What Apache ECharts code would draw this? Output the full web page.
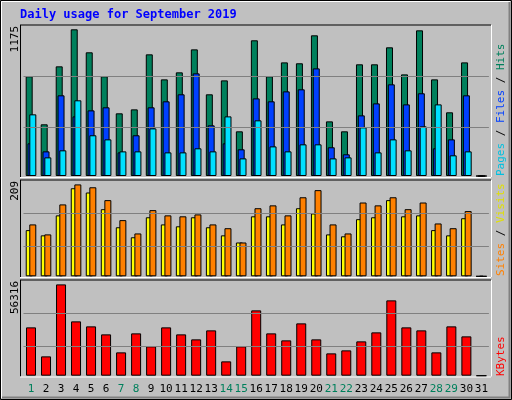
<!DOCTYPE html>
<html><head><meta charset="utf-8">
<script src="https://cdn.jsdelivr.net/npm/echarts@6/dist/echarts.min.js"></script>
<style>html,body{margin:0;padding:0;background:#c0c0c0}#c{width:512px;height:400px}</style>
</head><body><div id="c"></div>
<script>
const days = Array.from({length:31},(_,i)=>String(i+1));
const weekend = [1,7,8,14,15,21,22,28,29];
const hits  = [781,405,859,1149,969,781,491,522,953,757,812,992,640,749,350,1063,781,890,883,1102,428,350,875,875,1008,796,1141,757,499,890,0];
const files = [256,193,632,467,514,538,185,319,538,585,640,804,397,256,209,608,585,663,679,843,225,170,475,569,718,561,648,217,287,632,0];
const pages = [483,146,201,593,319,287,193,193,373,185,185,217,193,467,138,436,232,193,248,248,138,146,381,185,287,201,389,561,162,193,0];
const visits= [97,86,128,185,176,141,103,82,124,109,105,124,103,86,71,126,126,109,143,132,88,84,120,124,160,126,128,97,86,122,0];
const sites = [109,88,151,193,187,160,118,90,139,128,126,130,109,101,71,143,149,128,166,181,109,90,155,149,166,141,155,111,101,137,0];
const kbytes= [27492,10997,51950,30905,28061,23510,13272,24079,16685,27492,23510,20666,25786,8153,16685,37162,24079,20098,29767,20666,12703,14410,19529,24648,42850,27492,25786,13272,28061,22373,0];
const yMax = [1175,209,56316];
const gridLinesTop=[381,781], gridLinesMid=[63,132], gridLinesBot=[16685,35455];

const F='"DejaVu Sans Mono", monospace';
const ch = echarts.init(document.getElementById('c'));
const grids=[{left:23.5,width:465.4,top:26,height:150},{left:23.5,width:465.4,top:176.8,height:99.5},{left:23.5,width:465.4,top:276.7,height:99}];
const xAxes=grids.map((g,i)=>({type:'category',gridIndex:i,data:days,boundaryGap:true,
  axisLine:{show:false},axisTick:{show:false},
  axisLabel:{show:i===2,interval:0,margin:8,fontFamily:F,fontSize:11,
    color:(v)=>weekend.includes(+v)?'#00805c':'#000'}}));
const yAxes=grids.map((g,i)=>({type:'value',gridIndex:i,min:0,max:yMax[i],show:false,splitLine:{show:false}}));
function ml(vals){return {silent:true,symbol:'none',label:{show:false},lineStyle:{color:'#808080',type:'solid',width:1},data:vals.map(v=>({yAxis:v}))};}
const bs={borderColor:'#000',borderWidth:1};
const series=[
 {type:'bar',xAxisIndex:0,yAxisIndex:0,data:hits,barWidth:7,barGap:'-74%',itemStyle:{color:'#00805c',...bs},markLine:ml(gridLinesTop),z:1},
 {type:'bar',xAxisIndex:0,yAxisIndex:0,data:files,barWidth:7,barGap:'-74%',itemStyle:{color:'#0040ff',...bs}},
 {type:'bar',xAxisIndex:0,yAxisIndex:0,data:pages,barWidth:7,barGap:'-74%',itemStyle:{color:'#00e0ff',...bs}},
 {type:'bar',xAxisIndex:1,yAxisIndex:1,data:visits,barWidth:7,barGap:'-49%',itemStyle:{color:'#ffff00',...bs},markLine:ml(gridLinesMid)},
 {type:'bar',xAxisIndex:1,yAxisIndex:1,data:sites,barWidth:7,barGap:'-49%',itemStyle:{color:'#ff8000',...bs}},
 {type:'bar',xAxisIndex:2,yAxisIndex:2,data:kbytes,barWidth:10,itemStyle:{color:'#ff0000',...bs},markLine:ml(gridLinesBot)}
];
function frame(y1,y2){return [
 {type:'line',shape:{x1:20,y1:y1,x2:491,y2:y1},style:{stroke:'#000',lineWidth:1},z:-5},
 {type:'line',shape:{x1:20.5,y1:y1,x2:20.5,y2:y2},style:{stroke:'#000',lineWidth:1},z:-5},
 {type:'line',shape:{x1:20,y1:y2+0.5,x2:491,y2:y2+0.5},style:{stroke:'#fff',lineWidth:1},z:-5},
 {type:'line',shape:{x1:491.5,y1:y1,x2:491.5,y2:y2},style:{stroke:'#fff',lineWidth:1},z:-5}];}
function vlab(x,y,text,align){return {type:'text',x:x,y:y,rotation:Math.PI/2,style:{text:text,font:'11px '+F,fill:'#000',align:align,verticalAlign:'middle'}};}
function rlab(y,parts){return {type:'text',x:501,y:y,rotation:Math.PI/2,style:{text:parts.map(p=>'{'+p[1]+'|'+p[0]+'}').join(''),
  rich:Object.fromEntries(parts.map(p=>[p[1],{fill:p[2],font:'11px '+F}])),align:'left',verticalAlign:'middle'}};}
const graphic=[
 {type:'rect',shape:{x:0.5,y:0.5,width:511,height:399},style:{fill:'#c0c0c0',stroke:'#000'},z:-10},
 {type:'polyline',shape:{points:[[1.5,398],[1.5,1.5],[510,1.5]]},style:{stroke:'#fff',fill:null},z:-9},
 {type:'polyline',shape:{points:[[2,397.5],[509.5,397.5],[509.5,2]]},style:{stroke:'#808080',fill:null,lineWidth:2},z:-9},
 ...frame(25,177),...frame(180,277),...frame(280,376.5),
 {type:'text',x:20,y:15,style:{text:'Daily usage for September 2019',font:'bold 12px '+F,fill:'#0000ff',verticalAlign:'middle'}},
 vlab(15,26,'1175','right'),vlab(15,181,'209','right'),vlab(15,281,'56316','right'),
 rlab(176,[['Pages','a','#00c0e0'],[' / ','s','#000'],['Files','b','#0040ff'],[' / ','t','#000'],['Hits','c','#00805c']]),
 rlab(276,[['Sites','a','#ff8000'],[' / ','s','#000'],['Visits','b','#e0e000']]),
 rlab(376,[['KBytes','a','#ff0000']])
];
ch.setOption({animation:false,grid:grids,xAxis:xAxes,yAxis:yAxes,series:series,graphic:graphic});
</script></body></html>
